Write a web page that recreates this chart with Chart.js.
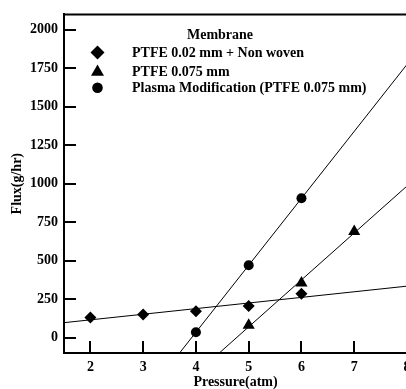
<!DOCTYPE html>
<html>
<head>
<meta charset="utf-8">
<script src="https://cdn.jsdelivr.net/npm/chart.js@4.4.1/dist/chart.umd.min.js"></script>
<style>
  html, body { margin: 0; padding: 0; background: #fff; overflow: hidden; }
</style>
</head>
<body>
<canvas id="flux" width="420" height="389"></canvas>
<script>
// Flux vs. pressure for three membranes, each with a least-squares fit line.
const legendTitle = 'Membrane';
const seriesNames = ['PTFE 0.02 mm + Non woven', 'PTFE 0.075 mm', 'Plasma Modification (PTFE 0.075 mm)'];
const pointStyles = ['rectRot', 'triangle', 'circle'];

const pressureNonWoven = [2, 3, 4, 5, 6];
const fluxNonWoven = [130, 150, 172, 205, 285];
const pressurePtfe = [5, 6, 7];
const fluxPtfe = [80, 355, 690];
const pressurePlasma = [4, 5, 6];
const fluxPlasma = [35, 470, 905];

const xTicks = [2, 3, 4, 5, 6, 7, 8];
const yTicks = [0, 250, 500, 750, 1000, 1250, 1500, 1750, 2000];
const xRange = [1.5, 8];
const yRange = [-100, 2100];

const SERIF = '"Liberation Serif", "Times New Roman", serif';

function toPoints(xs, ys) {
    return xs.map((x, i) => ({ x: x, y: ys[i] }));
}

// Ordinary least squares, evaluated at both ends of the x axis.
function fitLine(xs, ys) {
    const n = xs.length;
    const mx = xs.reduce((a, b) => a + b, 0) / n;
    const my = ys.reduce((a, b) => a + b, 0) / n;
    let sxy = 0, sxx = 0;
    for (let i = 0; i < n; i++) {
        sxy += (xs[i] - mx) * (ys[i] - my);
        sxx += (xs[i] - mx) * (xs[i] - mx);
    }
    const slope = sxy / sxx;
    return xRange.map(x => ({ x: x, y: my + slope * (x - mx) }));
}

const series = [
    [pressureNonWoven, fluxNonWoven, 6],
    [pressurePtfe, fluxPtfe, 7],
    [pressurePlasma, fluxPlasma, 5]
];

const datasets = [];
series.forEach(([xs, ys]) => {
    datasets.push({
        type: 'line',
        data: fitLine(xs, ys),
        borderColor: '#000',
        borderWidth: 1,
        pointRadius: 0,
        fill: false
    });
});
series.forEach(([xs, ys, r], i) => {
    datasets.push({
        type: 'scatter',
        label: seriesNames[i],
        data: toPoints(xs, ys),
        pointStyle: pointStyles[i],
        pointRadius: r,
        backgroundColor: '#000',
        borderColor: '#000',
        borderWidth: 0
    });
});

// Top frame edge and inward tick marks on both axes.
const framePlugin = {
    id: 'frame',
    afterDraw(chart) {
        const ctx = chart.ctx;
        const ca = chart.chartArea;
        const xs = chart.scales.x, ys = chart.scales.y;
        ctx.save();
        ctx.strokeStyle = '#000';
        ctx.lineWidth = 2;
        ctx.beginPath();
        ctx.moveTo(ca.left - 1, ca.top);
        ctx.lineTo(ca.right + 1, ca.top);
        ctx.moveTo(ca.right, ca.top);
        ctx.lineTo(ca.right, ca.bottom);
        xTicks.forEach(v => {
            const px = Math.round(xs.getPixelForValue(v));
            ctx.moveTo(px, ca.bottom);
            ctx.lineTo(px, ca.bottom - 12);
        });
        yTicks.forEach(v => {
            const py = Math.round(ys.getPixelForValue(v));
            ctx.moveTo(ca.left, py);
            ctx.lineTo(ca.left + 12, py);
        });
        ctx.stroke();
        ctx.restore();
    }
};

function drawMarker(ctx, style, x, y, r) {
    ctx.beginPath();
    if (style === 'rectRot') {
        ctx.moveTo(x, y - r);
        ctx.lineTo(x + r, y);
        ctx.lineTo(x, y + r);
        ctx.lineTo(x - r, y);
    } else if (style === 'triangle') {
        ctx.moveTo(x, y - r);
        ctx.lineTo(x + r * 0.866, y + r * 0.5);
        ctx.lineTo(x - r * 0.866, y + r * 0.5);
    } else {
        ctx.arc(x, y, r, 0, Math.PI * 2);
    }
    ctx.closePath();
    ctx.fill();
}

// Legend block in the upper-left of the plot.
const legendPlugin = {
    id: 'membraneLegend',
    afterDraw(chart) {
        const ctx = chart.ctx;
        const ca = chart.chartArea;
        ctx.save();
        ctx.fillStyle = '#000';
        ctx.font = 'bold 14px ' + SERIF;
        ctx.textBaseline = 'alphabetic';
        ctx.textAlign = 'center';
        ctx.fillText(legendTitle, ca.left + 156, ca.top + 25);
        ctx.textAlign = 'left';
        const baselines = [43, 61.5, 78];
        const markerY = [38, 57.5, 73.3];
        const sizes = [7, 7.5, 5.3];
        seriesNames.forEach((name, i) => {
            drawMarker(ctx, pointStyles[i], ca.left + 33.5, ca.top + markerY[i], sizes[i]);
            ctx.fillText(name, ca.left + 68, ca.top + baselines[i]);
        });
        ctx.restore();
    }
};

const tickFont = { family: SERIF, size: 14, weight: 'bold' };
const titleFont = { family: SERIF, size: 14, weight: 'bold', lineHeight: 1 };

new Chart(document.getElementById('flux'), {
    type: 'scatter',
    data: { datasets: datasets },
    options: {
        responsive: false,
        animation: false,
        devicePixelRatio: 1,
        layout: { padding: { top: 10, right: 13, bottom: 0, left: 0 } },
        plugins: {
            legend: { display: false },
            tooltip: { enabled: false }
        },
        scales: {
            x: {
                type: 'linear',
                min: xRange[0],
                max: xRange[1],
                afterBuildTicks: s => { s.ticks = xTicks.map(v => ({ value: v })); },
                afterFit: s => { s.height = 36; },
                grid: { display: false, drawTicks: false },
                border: { display: true, color: '#000', width: 2 },
                ticks: {
                    color: '#000',
                    padding: 6,
                    maxRotation: 0,
                    callback: v => String(v),
                    font: tickFont
                },
                title: {
                    display: true,
                    text: 'Pressure(atm)',
                    color: '#000',
                    padding: 0,
                    font: titleFont
                }
            },
            y: {
                type: 'linear',
                min: yRange[0],
                max: yRange[1],
                afterBuildTicks: s => { s.ticks = yTicks.map(v => ({ value: v })); },
                afterFit: s => { s.width = 64; },
                grid: { display: false, drawTicks: false },
                border: { display: true, color: '#000', width: 2 },
                ticks: {
                    color: '#000',
                    padding: 6,
                    callback: v => String(v),
                    font: tickFont
                },
                title: {
                    display: true,
                    text: 'Flux(g/hr)',
                    color: '#000',
                    padding: { top: 10, bottom: 0 },
                    font: titleFont
                }
            }
        }
    },
    plugins: [framePlugin, legendPlugin]
});
</script>
</body>
</html>
